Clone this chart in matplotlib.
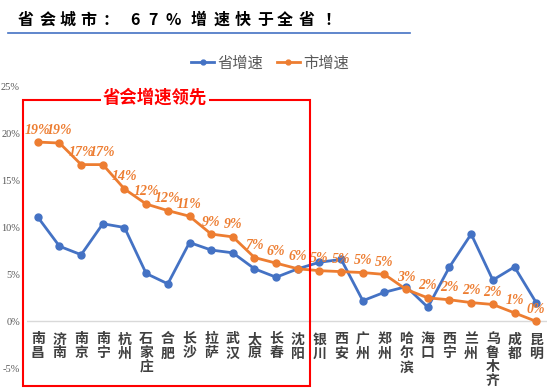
import matplotlib
matplotlib.use("Agg")
import matplotlib.pyplot as plt
from matplotlib.patches import Rectangle
from matplotlib.lines import Line2D

plt.rcParams['font.family'] = ['Noto Sans CJK SC', 'DejaVu Sans']

cities = ["南昌", "济南", "南京", "南宁", "杭州", "石家庄", "合肥", "长沙", "拉萨", "武汉",
          "太原", "长春", "沈阳", "银川", "西安", "广州", "郑州", "哈尔滨", "海口", "西宁",
          "兰州", "乌鲁木齐", "成都", "昆明"]
province_growth = [11.1, 8.0, 7.1, 10.4, 10.0, 5.1, 4.0, 8.4, 7.6, 7.3,
                   5.6, 4.7, 5.6, 6.3, 6.6, 2.2, 3.1, 3.7, 1.5, 5.8,
                   9.3, 4.4, 5.8, 2.0]
city_growth = [19.1, 19.0, 16.7, 16.7, 14.1, 12.5, 11.8, 11.2, 9.3, 9.0,
               6.8, 6.2, 5.6, 5.4, 5.3, 5.2, 5.0, 3.4, 2.5, 2.3,
               2.0, 1.8, 0.9, 0.0]
y_ticks = [-5, 0, 5, 10, 15, 20, 25]
title_chars = list("省会城市：67%增速快于全省！")
box_label = "省会增速领先"

BLUE = "#4472C4"
ORANGE = "#ED7D31"
W, H = 550, 391

fig = plt.figure(figsize=(5.5, 3.91), dpi=100)
ax = fig.add_axes([27 / W, 1 - 368.3 / H, (547 - 27) / W, (368.3 - 86.7) / H])

x = list(range(len(cities)))
ax.plot(x, province_growth, color=BLUE, lw=2.0, marker="o", ms=5, zorder=3)
ax.plot(x, city_growth, color=ORANGE, lw=2.0, marker="o", ms=5, zorder=3)

for xi, v in zip(x, city_growth):
    ax.annotate(f"{round(v):d}%", (xi, v), xytext=(0, 4), textcoords="offset points",
                ha="center", va="bottom", color=ORANGE, fontsize=10,
                family="Liberation Serif", fontweight="bold", fontstyle="italic", zorder=4)

ax.set_xlim(-0.5, len(cities) - 0.5)
ax.set_ylim(-5, 25)
ax.axhline(0, color="#D9D9D9", lw=1, zorder=1)
for s in ax.spines.values():
    s.set_visible(False)
ax.set_xticks([])
ax.set_yticks(y_ticks)
ax.set_yticklabels([f"{t}%" for t in y_ticks], family="Liberation Serif",
                   color="#595959", fontsize=7.5)
ax.tick_params(axis="y", length=0, pad=5)

for xi, c in zip(x, cities):
    ax.annotate("\n".join(c), (xi, 0), xytext=(0, -8), textcoords="offset points",
                ha="center", va="top", fontsize=10, fontweight="bold", color="#404040",
                linespacing=1.0, annotation_clip=False)

# title
title_x = [26, 48, 68, 88, 111, 135, 153, 173, 199, 222, 243, 265, 285, 307, 332]
for tx, ch in zip(title_x, title_chars):
    fig.text(tx / W, 1 - 20 / H, ch, ha="center", va="center", fontsize=11.5,
             fontweight="bold", color="black")
fig.add_artist(Line2D([8 / W, 410 / W], [1 - 32.5 / H, 1 - 32.5 / H],
                      color=BLUE, lw=1.2, transform=fig.transFigure))

# legend
handles = [Line2D([], [], color=BLUE, lw=2, marker="o", ms=3.5),
           Line2D([], [], color=ORANGE, lw=2, marker="o", ms=3.5)]
fig.legend(handles, ["省增速", "市增速"], loc="center", bbox_to_anchor=(270 / W, 1 - 63 / H),
           ncol=2, frameon=False, fontsize=11, handlelength=1.5, handletextpad=0.2,
           columnspacing=0.9, labelcolor="#595959")

# red box
fig.add_artist(Rectangle((22.7 / W, 1 - 386 / H), (310 - 22.7) / W, (386 - 100) / H,
                         transform=fig.transFigure, fill=False, edgecolor="#FF0000", lw=1.5,
                         zorder=5))
fig.text(155 / W, 1 - 98 / H, box_label, ha="center", va="center", fontsize=12.5,
         fontweight="bold", color="#FF0000", zorder=6,
         bbox=dict(facecolor="white", edgecolor="none", pad=1))

fig.savefig("out.png", dpi=100)
